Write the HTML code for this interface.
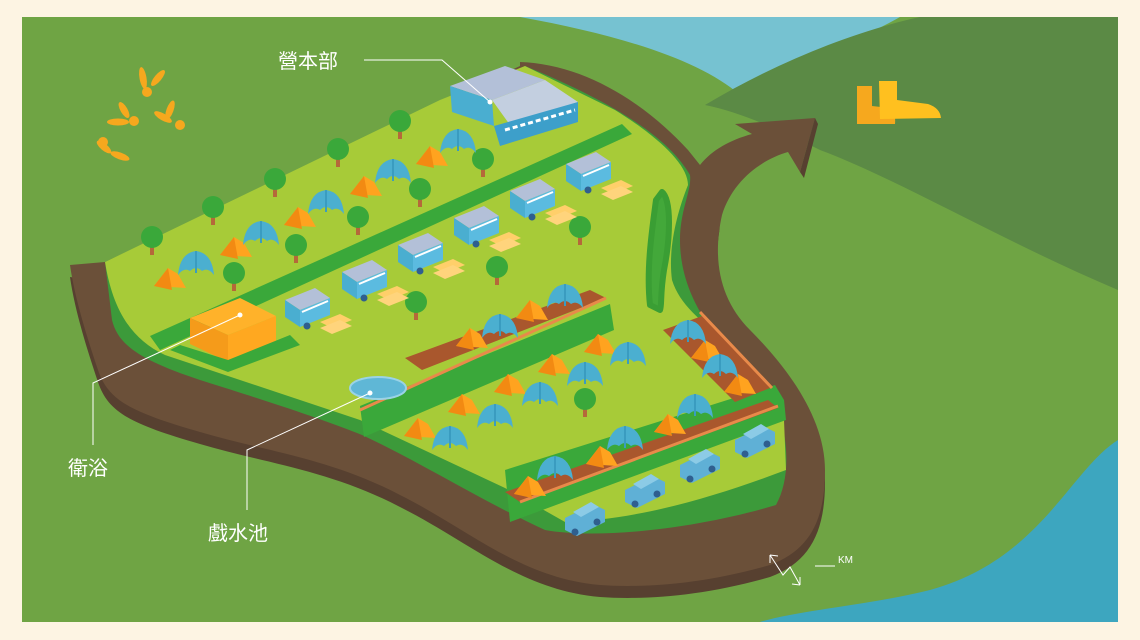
<!DOCTYPE html>
<html><head><meta charset="utf-8"><style>
html,body{margin:0;padding:0;background:#fdf4e3;}
svg{display:block}
text{font-family:"Liberation Sans","Noto Sans CJK TC",sans-serif;fill:#fff}
</style></head><body>
<svg width="1140" height="640" viewBox="0 0 1140 640" xmlns="http://www.w3.org/2000/svg">
<defs>
<g id="tree"><rect x="-2" y="2" width="4" height="12" fill="#b5683a"/><circle cx="0" cy="-4" r="11" fill="#3aa83a"/></g>
<g id="tent"><path d="M-14,8 L0,-10 L10,-4 L18,10Z" fill="#ffa31f"/><path d="M0,-10 L-14,8 L4,12Z" fill="#f28a12"/></g>
<g id="dome"><path d="M-18,10 Q-16,-12 0,-14 Q16,-12 18,10 Q12,2 6,6 Q0,0 -6,6 Q-12,2 -18,10Z" fill="#4bafd0"/><path d="M0,-14 L0,8" stroke="#3a9cc0" stroke-width="2"/></g>
<g id="van"><path d="M0,0 L30,-12 L45,-2 L15,10Z" fill="#b3c0d8"/><path d="M0,0 L15,10 L15,27 L0,17Z" fill="#4aaed0"/><path d="M15,10 L45,-2 L45,15 L15,27Z" fill="#5bbbe0"/><circle cx="22" cy="26" r="3.5" fill="#2f5f8f"/><path d="M17,12 L43,1" stroke="#fff" stroke-width="2"/></g>
<g id="bench"><path d="M0,0 L20,-8 L32,-2 L12,6Z" fill="#ffcf6a"/><path d="M0,6 L20,-2 L32,4 L12,12Z" fill="#ffd47c"/></g>
<g id="car"><path d="M0,8 L28,-6 L40,0 L40,12 L12,26 L0,20Z" fill="#5fb0d6"/><path d="M8,2 L26,-8 L34,-3 L16,7Z" fill="#8ccbe6"/><circle cx="10" cy="22" r="3.5" fill="#2f5f8f"/><circle cx="32" cy="12" r="3.5" fill="#2f5f8f"/></g>
</defs>
<rect width="1140" height="640" fill="#fdf4e3"/>
<clipPath id="c"><rect x="22" y="17" width="1096" height="605"/></clipPath>
<g clip-path="url(#c)">
<rect x="22" y="17" width="1096" height="605" fill="#6fa444"/>
<path d="M520,17 L900,17 C860,40 800,60 740,95 C700,60 620,35 520,17Z" fill="#76c2d1"/>
<path d="M705,105 C780,60 860,30 920,17 L1118,17 L1118,290 C1000,240 900,180 820,150 C780,130 740,112 705,105Z" fill="#5b8a45"/>
<path d="M1118,440 C1070,470 1040,560 930,590 C870,605 800,610 760,622 L1118,622Z" fill="#3da6bf"/>
<path transform="translate(0,12)" d="M720,215 C712,260 720,300 750,330 C790,370 825,420 825,470 C825,520 810,550 770,565 C700,585 640,588 600,585 C520,578 470,530 400,495 C330,458 260,450 200,432 C130,412 108,400 98,370 C88,340 75,300 70,265 L300,300 L700,300Z" fill="#574030"/>
<path d="M520,62 C580,64 640,98 688,150 L700,165 C712,150 730,140 752,134 L735,124 L815,118 L800,172 L788,152 C760,160 732,182 722,215 C712,260 720,300 750,330 C790,370 825,420 825,470 C825,520 810,550 770,565 C700,585 640,588 600,585 C520,578 470,530 400,495 C330,458 260,450 200,432 C130,412 108,400 98,370 C88,340 75,300 70,265 L105,262 L520,66Z" fill="#6b5039"/>
<path d="M800,172 L815,118 L818,124 L804,178Z" fill="#574030"/>
<path d="M105,262 L112,320 C118,345 140,360 200,380 C280,405 330,422 362,435 C420,462 480,500 545,530 C600,540 700,528 776,505 C790,480 790,440 775,400 C760,380 730,350 712,330 C690,300 680,270 680,240 C680,210 692,190 690,175 C670,140 620,105 525,66Z" fill="#3c9a3a"/>
<path d="M105,262 L440,100 L525,66 L615,110 C660,138 688,165 688,185 C676,215 668,250 672,280 C680,305 700,320 730,345 C760,372 778,395 784,420 L786,470 C720,495 640,520 565,522 L505,488 L360,420 L165,355 C128,338 112,305 105,262Z" fill="#a7cb38"/>
<path d="M150,336 L622,124 L632,134 L160,350Z" fill="#3aa83a"/>
<path d="M360,406 L610,304 L614,330 L364,437Z" fill="#3aa83a"/>
<path d="M505,470 L775,385 L784,400 L786,420 L510,522Z" fill="#3aa83a"/>
<path d="M662,192 C672,200 670,240 664,270 C660,295 662,305 660,310 L650,305 C646,270 652,230 656,200Z" fill="#43a83a" stroke="#3a9e34" stroke-width="6" stroke-linejoin="round"/>
<path d="M405,358 L590,290 L606,298 L422,370Z" fill="#a9572d"/>
<path d="M663,330 L705,315 L770,388 L735,402Z" fill="#a9572d"/>
<path d="M505,492 L768,400 L778,408 L520,502Z" fill="#a9572d"/>
<path d="M360,410 L606,298 M700,312 L772,388 M520,502 L778,406" stroke="#e88a4a" stroke-width="3" fill="none"/>
<path d="M450,86 L505,66 L545,80 L492,100Z" fill="#b3c0d8"/>
<path d="M450,86 L492,100 L494,126 L452,112Z" fill="#4aaed0"/>
<path d="M492,100 L545,80 L578,102 L510,125Z" fill="#c3cfe0"/>
<path d="M494,126 L578,102 L578,122 L500,146Z" fill="#3d9fca"/>
<path d="M505,130 L575,110" stroke="#fff" stroke-width="3" stroke-dasharray="5 3"/>
<path d="M190,318 L240,298 L276,316 L228,335Z" fill="#ffb22a"/>
<path d="M190,318 L228,335 L228,362 L190,344Z" fill="#f59b1a"/>
<path d="M228,335 L276,316 L276,342 L228,362Z" fill="#ffa820"/>
<path d="M170,350 L228,372 L300,345 L290,335 L228,360 L180,345Z" fill="#3aa83a"/>
<ellipse cx="378" cy="388" rx="28" ry="11" fill="#5fb7d6" stroke="#9ad3e6" stroke-width="2"/>
<use href="#tree" x="400" y="125"/><use href="#tree" x="338" y="153"/><use href="#tree" x="275" y="183"/><use href="#tree" x="213" y="211"/><use href="#tree" x="152" y="241"/>
<use href="#tree" x="483" y="163"/><use href="#tree" x="420" y="193"/><use href="#tree" x="358" y="221"/><use href="#tree" x="296" y="249"/><use href="#tree" x="234" y="277"/>
<use href="#tree" x="580" y="231"/><use href="#tree" x="497" y="271"/><use href="#tree" x="416" y="306"/><use href="#tree" x="585" y="403"/>
<use href="#tent" x="168" y="278"/><use href="#tent" x="234" y="247"/><use href="#tent" x="298" y="217"/><use href="#tent" x="364" y="186"/><use href="#tent" x="430" y="156"/>
<use href="#dome" x="196" y="265"/><use href="#dome" x="261" y="235"/><use href="#dome" x="326" y="204"/><use href="#dome" x="393" y="173"/><use href="#dome" x="458" y="143"/>
<use href="#tent" x="418" y="428"/><use href="#tent" x="462" y="404"/><use href="#tent" x="508" y="384"/><use href="#tent" x="552" y="364"/><use href="#tent" x="598" y="344"/>
<use href="#dome" x="450" y="440"/><use href="#dome" x="495" y="418"/><use href="#dome" x="540" y="396"/><use href="#dome" x="585" y="376"/><use href="#dome" x="628" y="356"/>
<use href="#tent" x="470" y="338"/><use href="#tent" x="530" y="310"/><use href="#dome" x="500" y="328"/><use href="#dome" x="565" y="298"/>
<use href="#tent" x="528" y="486"/><use href="#tent" x="600" y="456"/><use href="#tent" x="668" y="424"/><use href="#tent" x="705" y="350"/><use href="#tent" x="738" y="384"/>
<use href="#dome" x="555" y="470"/><use href="#dome" x="625" y="440"/><use href="#dome" x="695" y="408"/><use href="#dome" x="688" y="334"/><use href="#dome" x="720" y="368"/>
<use href="#van" x="285" y="300"/><use href="#van" x="342" y="272"/><use href="#van" x="398" y="245"/><use href="#van" x="454" y="218"/><use href="#van" x="510" y="191"/><use href="#van" x="566" y="164"/>
<use href="#bench" x="320" y="322"/><use href="#bench" x="377" y="294"/><use href="#bench" x="433" y="267"/><use href="#bench" x="489" y="240"/><use href="#bench" x="545" y="213"/><use href="#bench" x="601" y="188"/>
<use href="#car" x="565" y="510"/><use href="#car" x="625" y="482"/><use href="#car" x="680" y="457"/><use href="#car" x="735" y="432"/>
<g fill="#f6a81e">
<ellipse cx="143" cy="78" rx="3.5" ry="11" transform="rotate(-10 143 78)"/><ellipse cx="158" cy="78" rx="3.5" ry="10" transform="rotate(40 158 78)"/><circle cx="147" cy="92" r="5"/>
<ellipse cx="118" cy="122" rx="11" ry="3.5"/><ellipse cx="124" cy="110" rx="3.5" ry="9" transform="rotate(-30 124 110)"/><circle cx="134" cy="121" r="5"/>
<ellipse cx="170" cy="110" rx="3.5" ry="10" transform="rotate(20 170 110)"/><circle cx="180" cy="125" r="5"/><ellipse cx="163" cy="117" rx="10" ry="3.5" transform="rotate(30 163 117)"/>
<ellipse cx="104" cy="147" rx="3.5" ry="9" transform="rotate(-50 104 147)"/><circle cx="103" cy="142" r="5"/><ellipse cx="120" cy="156" rx="10" ry="3.5" transform="rotate(20 120 156)"/>
</g>
<path d="M857,86 L872,86 L872,106 L890,108 Q896,112 895,124 L857,124Z" fill="#f6a81e"/>
<path d="M879,81 L897,81 L897,100 L928,104 Q940,108 941,118 L880,119Z" fill="#ffc01f"/>
<g stroke="#fff" stroke-width="1" fill="none">
<path d="M364,60 L442,60 L490,102"/>
<path d="M93,445 L93,383 L240,315"/>
<path d="M247,510 L247,450 L370,393"/>
<path d="M815,566 L835,566"/>
<path d="M770,555 L783,575 L790,567 L800,585 M770,555 L770,563 M770,555 L778,556 M800,585 L800,577 M800,585 L792,584"/>
</g>
<circle cx="490" cy="102" r="2.5" fill="#fff"/><circle cx="240" cy="315" r="2.5" fill="#fff"/><circle cx="370" cy="393" r="2.5" fill="#fff"/>
<text x="278" y="68" font-size="20">營本部</text>
<text x="68" y="475" font-size="20">衛浴</text>
<text x="208" y="540" font-size="20">戲水池</text>
<text x="838" y="563" font-size="10">KM</text>
</g>
</svg>
</body></html>
